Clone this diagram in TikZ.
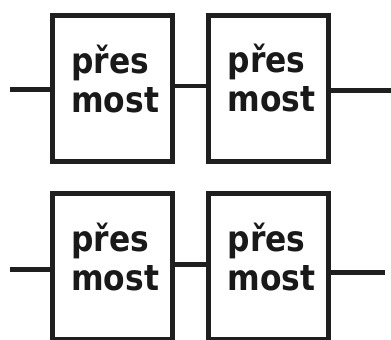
\documentclass[tikz,border=0pt]{standalone}
\usepackage{fontspec}
\newfontfamily\boxfont{DejaVu Sans}[FakeStretch=0.88]
\begin{document}
\begin{tikzpicture}[x=1pt,y=-1pt,
  box/.style={draw=black!88, line width=4.5pt, minimum width=120pt, minimum height=146pt, inner sep=0pt, outer sep=0pt},
  txt/.style={align=left, inner sep=0pt, text=black!90, font={\boxfont\bfseries\fontsize{35.6}{39}\selectfont}},
  wire/.style={draw=black!88, line width=4.5pt}]
\useasboundingbox (0,0) rectangle (391,340);
\node[box] (A) at (112.5,88.25) {};
\node[box] (B) at (268.5,88.25) {};
\node[box] (C) at (112.5,266.5) {};
\node[box] (D) at (268.5,266.5) {};
\node[txt, anchor=base west] (tA) at (71,112) {přes\\most};
\node[txt, anchor=base west] (tB) at (227.5,111) {přes\\most};
\node[txt, anchor=base west] (tC) at (71,290) {přes\\most};
\node[txt, anchor=base west] (tD) at (227.5,290) {přes\\most};
\coordinate (inA) at (10,89.5);
\coordinate (outB) at (391,90.5);
\coordinate (inC) at (10,269.5);
\coordinate (outD) at (385,272.5);
\draw[wire] (inA) -- (inA -| A.west);
\draw[wire] ([yshift=2.5pt]A.east) -- ([yshift=2.5pt]B.west);
\draw[wire] (outB -| B.east) -- (outB);
\draw[wire] (inC) -- (inC -| C.west);
\draw[wire] ([yshift=2pt]C.east) -- ([yshift=2pt]D.west);
\draw[wire] (outD -| D.east) -- (outD);
\end{tikzpicture}
\end{document}
